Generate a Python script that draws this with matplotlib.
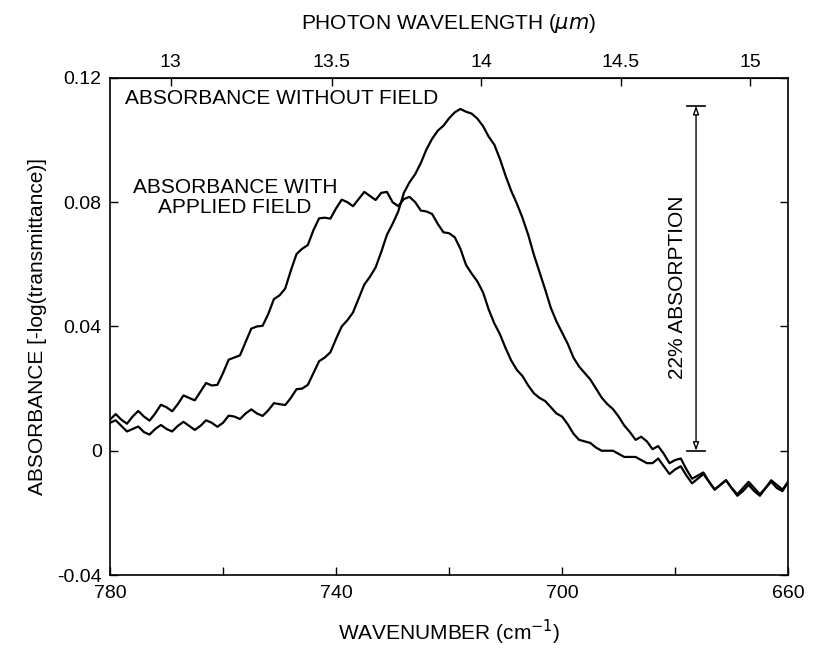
import numpy as np
import matplotlib
matplotlib.use("Agg")
import matplotlib.pyplot as plt

plt.rcParams['font.family'] = ['Liberation Sans', 'DejaVu Sans']

# ---------------- data ----------------
wavenumber = np.arange(780, 659, -1)  # cm^-1, 1 cm^-1 sampling

absorbance_applied_field = [
    0.0100, 0.0118, 0.0100, 0.0087,
    0.0110, 0.0128, 0.0110, 0.0097,
    0.0120, 0.0148, 0.0140, 0.0127,
    0.0150, 0.0178, 0.0170, 0.0162,
    0.0190, 0.0218, 0.0210, 0.0212,
    0.0250, 0.0293, 0.0300, 0.0307,
    0.0350, 0.0393, 0.0400, 0.0402,
    0.0440, 0.0488, 0.0500, 0.0522,
    0.0580, 0.0633, 0.0650, 0.0662,
    0.0710, 0.0748, 0.0750, 0.0747,
    0.0780, 0.0808, 0.0800, 0.0787,
    0.0810, 0.0833, 0.0820, 0.0807,
    0.0830, 0.0833, 0.0800, 0.0787,
    0.0810, 0.0817, 0.0800, 0.0773,
    0.0770, 0.0762, 0.0730, 0.0703,
    0.0700, 0.0687, 0.0650, 0.0598,
    0.0570, 0.0545, 0.0510, 0.0455,
    0.0410, 0.0375, 0.0330, 0.0290,
    0.0260, 0.0240, 0.0210, 0.0185,
    0.0170, 0.0160, 0.0140, 0.0120,
    0.0110, 0.0085, 0.0055, 0.0035,
    0.0030, 0.0025, 0.0010, 0.0000,
    0.0000, 0.0000, -0.0010, -0.0020,
    -0.0020, -0.0020, -0.0030, -0.0040,
    -0.0040, -0.0025, -0.0050, -0.0075,
    -0.0060, -0.0050, -0.0080, -0.0105,
    -0.0090, -0.0075, -0.0100, -0.0125,
    -0.0110, -0.0095, -0.0120, -0.0140,
    -0.0120, -0.0100, -0.0120, -0.0140,
    -0.0120, -0.0095, -0.0110, -0.0125,
    -0.0100,
]

absorbance_without_field = [
    0.0090, 0.0098, 0.0080, 0.0062,
    0.0070, 0.0078, 0.0060, 0.0052,
    0.0070, 0.0083, 0.0070, 0.0062,
    0.0080, 0.0093, 0.0080, 0.0067,
    0.0080, 0.0098, 0.0090, 0.0077,
    0.0090, 0.0113, 0.0110, 0.0102,
    0.0120, 0.0133, 0.0120, 0.0112,
    0.0130, 0.0153, 0.0150, 0.0147,
    0.0170, 0.0198, 0.0200, 0.0212,
    0.0250, 0.0288, 0.0300, 0.0317,
    0.0360, 0.0400, 0.0420, 0.0445,
    0.0490, 0.0535, 0.0560, 0.0590,
    0.0640, 0.0695, 0.0730, 0.0770,
    0.0830, 0.0864, 0.0890, 0.0926,
    0.0970, 0.1004, 0.1030, 0.1046,
    0.1070, 0.1089, 0.1100, 0.1091,
    0.1085, 0.1069, 0.1045, 0.1011,
    0.0985, 0.0939, 0.0885, 0.0836,
    0.0795, 0.0749, 0.0695, 0.0631,
    0.0575, 0.0519, 0.0460, 0.0416,
    0.0380, 0.0344, 0.0300, 0.0271,
    0.0250, 0.0229, 0.0200, 0.0171,
    0.0150, 0.0134, 0.0110, 0.0081,
    0.0060, 0.0035, 0.0045, 0.0030,
    0.0005, 0.0015, -0.0010, -0.0040,
    -0.0030, -0.0025, -0.0060, -0.0090,
    -0.0080, -0.0070, -0.0100, -0.0125,
    -0.0110, -0.0095, -0.0120, -0.0145,
    -0.0130, -0.0110, -0.0130, -0.0145,
    -0.0120, -0.0100, -0.0120, -0.0130,
    -0.0100,
]

x_ticks = [780, 760, 740, 720, 700, 680, 660]
x_tick_labels = ['780', '', '740', '', '700', '', '660']
y_ticks = [-0.04, 0.0, 0.04, 0.08, 0.12]
y_tick_labels = ['-0.04', '0', '0.04', '0.08', '0.12']
top_ticks = [13, 13.5, 14, 14.5, 15]
top_tick_labels = ['13', '13.5', '14', '14.5', '15']

# 22% absorption marker
marker_wn = 676.3
marker_low = 0.0
marker_high = 0.111
marker_text = '22% ABSORPTION'

# ---------------- figure ----------------
fig = plt.figure(figsize=(8.21, 6.49), dpi=100)
ax = fig.add_axes([0.134, 0.114, 0.826, 0.766])

ax.plot(wavenumber, absorbance_applied_field, color='black', lw=1.6,
        solid_joinstyle='round')
ax.plot(wavenumber, absorbance_without_field, color='black', lw=1.6,
        solid_joinstyle='round')

ax.set_xlim(780, 660)
ax.set_ylim(-0.04, 0.12)
ax.set_xticks(x_ticks)
ax.set_xticklabels(x_tick_labels)
ax.set_yticks(y_ticks)
ax.set_yticklabels(y_tick_labels)
ax.tick_params(axis='both', direction='in', length=6, width=1,
               labelsize=14, right=True, top=False)
ax.tick_params(axis='y', pad=6)
ax.tick_params(axis='x', pad=7)
for s in ax.spines.values():
    s.set_linewidth(1.2)

ax.set_xlabel('WAVENUMBER (cm$^{-1}$)', fontsize=15)
ax.xaxis.set_label_coords(0.5, -0.087)
ax.set_ylabel('ABSORBANCE [-log(transmittance)]', fontsize=15)
ax.yaxis.set_label_coords(-0.093, 0.5)


def wn_to_um(x):
    x = np.asarray(x, dtype=float)
    with np.errstate(divide='ignore'):
        return 1e4 / x


secax = ax.secondary_xaxis('top', functions=(wn_to_um, wn_to_um))
secax.set_xticks(top_ticks)
secax.set_xticklabels(top_tick_labels)
secax.tick_params(direction='in', length=6, width=1, labelsize=14, pad=5)
secax.set_xlabel(r'PHOTON WAVELENGTH ($\mu m$)', fontsize=15, labelpad=18)

# annotations
ax.text(777.3, 0.1135, 'ABSORBANCE WITHOUT FIELD', ha='left', va='center',
        fontsize=15)
ax.text(757.9, 0.0815, 'ABSORBANCE WITH\nAPPLIED FIELD', ha='center',
        va='center', fontsize=15, linespacing=1.05)

ax.annotate('', xy=(marker_wn, marker_high), xytext=(marker_wn, marker_low),
            arrowprops=dict(arrowstyle='<|-|>,head_length=0.5,head_width=0.18',
                            color='black', lw=1.0, shrinkA=0, shrinkB=0,
                            fc='white'))
cap_half = 1.6
ax.plot([marker_wn + cap_half, marker_wn - cap_half], [marker_high] * 2,
        color='black', lw=1.2)
ax.plot([marker_wn + cap_half, marker_wn - cap_half], [marker_low] * 2,
        color='black', lw=1.2)
ax.text(marker_wn + 3.3, (marker_low + marker_high) / 2 - 0.003, marker_text,
        rotation=90, ha='center', va='center', fontsize=15)

fig.savefig('out.png', dpi=100)
